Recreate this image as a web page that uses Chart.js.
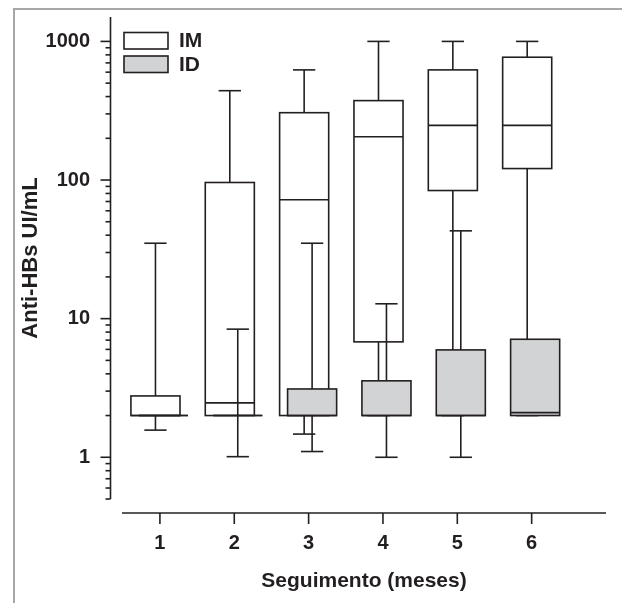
<!DOCTYPE html>
<html>
<head>
<meta charset="utf-8">
<script src="https://cdn.jsdelivr.net/npm/chart.js@4/dist/chart.umd.min.js"></script>
<style>
  body { margin: 0; background: #fff; }
  #wrap { position: relative; width: 622px; height: 603px; }
  #frame { position: absolute; left: 13px; top: 8px; right: 0; bottom: 0;
    border-left: 2px solid #a7a7a7; border-top: 2px solid #a7a7a7; pointer-events: none; }
</style>
</head>
<body>
<div id="wrap">
  <canvas id="chart" width="622" height="603"></canvas>
  <div id="frame"></div>
</div>
<script>
// months of follow-up
const months = [1, 2, 3, 4, 5, 6]

// IM group (white boxes)
const imMin = [1.57, 2, 1.47, 2, 2, 2]
const imQ1 = [2, 2, 2, 6.8, 84, 121]
const imMedian = [2, 2.47, 72, 205, 248, 248]
const imQ3 = [2.77, 96, 306, 374, 623, 769]
const imMax = [35, 441, 623, 1000, 1000, 1000]

// ID group (grey boxes)
const idMin = [2, 1.01, 1.1, 1, 1, 2]
const idQ1 = [2, 2, 2, 2, 2, 2]
const idMedian = [2, 2, 2, 2, 2, 2.1]
const idQ3 = [2, 2, 3.11, 3.56, 5.95, 7.1]
const idMax = [2, 8.4, 35, 12.8, 43, 7.1]

const yMajor = [1, 10, 100, 1000]
const yTickLabels = ['1', '10', '100', '1000']
const yMinor = [0.5, 0.6, 0.7, 0.8, 0.9, 2, 3, 4, 5, 6, 7, 8, 9,
  20, 30, 40, 50, 60, 70, 80, 90, 200, 300, 400, 500, 600, 700, 800, 900]

const ink = '#231f20'
const grey = '#d1d3d4'
const fontFamily = '"Liberation Sans", Arial, sans-serif'

const groups = [
  { label: 'IM', fill: '#ffffff', shift: -0.06, min: imMin, q1: imQ1, med: imMedian, q3: imQ3, max: imMax },
  { label: 'ID', fill: grey, shift: 0.047, min: idMin, q1: idQ1, med: idMedian, q3: idQ3, max: idMax }
]

const hline = (ctx, x1, x2, y) => {
  ctx.beginPath(); ctx.moveTo(x1, y); ctx.lineTo(x2, y); ctx.stroke()
}
const vline = (ctx, x, y1, y2) => {
  ctx.beginPath(); ctx.moveTo(x, y1); ctx.lineTo(x, y2); ctx.stroke()
}

const boxPlot = {
  id: 'boxPlot',
  afterDraw(chart) {
    const { ctx, scales: { x, y } } = chart
    ctx.save()
    ctx.strokeStyle = ink
    ctx.lineWidth = 1.6

    // axes, drawn detached like the original
    const axisX = x.left - 11.5
    vline(ctx, axisX, y.top, y.bottom)
    y.ticks.forEach(t => {
      const py = y.getPixelForValue(t.value)
      hline(ctx, axisX - (yMajor.includes(t.value) ? 10 : 5), axisX, py)
    })
    const axisY = y.bottom + 14
    hline(ctx, x.left, x.right, axisY)
    months.forEach(m => vline(ctx, x.getPixelForValue(m), axisY, axisY + 11))

    const halfBox = 0.33
    const halfCap = 0.15
    const drawWhiskers = g => {
      months.forEach((m, i) => {
        const cx = x.getPixelForValue(m + g.shift)
        const cap = x.getPixelForValue(m + g.shift + halfCap) - cx
        if (g.max[i] > g.q3[i]) {
          vline(ctx, cx, y.getPixelForValue(g.q3[i]), y.getPixelForValue(g.max[i]))
          hline(ctx, cx - cap, cx + cap, y.getPixelForValue(g.max[i]))
        }
        if (g.min[i] < g.q1[i]) {
          vline(ctx, cx, y.getPixelForValue(g.q1[i]), y.getPixelForValue(g.min[i]))
          hline(ctx, cx - cap, cx + cap, y.getPixelForValue(g.min[i]))
        }
      })
    }
    const drawBoxes = g => {
      months.forEach((m, i) => {
        const x1 = x.getPixelForValue(m + g.shift - halfBox)
        const x2 = x.getPixelForValue(m + g.shift + halfBox)
        const top = y.getPixelForValue(g.q3[i])
        const bottom = y.getPixelForValue(g.q1[i])
        ctx.fillStyle = g.fill
        ctx.fillRect(x1, top, x2 - x1, bottom - top)
        ctx.strokeRect(x1, top, x2 - x1, bottom - top)
        hline(ctx, x1, x2, y.getPixelForValue(g.med[i]))
      })
    }
    const [im, id] = groups
    drawBoxes(im)
    drawWhiskers(im)
    drawWhiskers(id)
    drawBoxes(id)

    // legend in the top left corner
    ctx.font = `bold 21px ${fontFamily}`
    ctx.textBaseline = 'middle'
    groups.forEach((g, i) => {
      const top = 32.5 + i * 23.5
      ctx.fillStyle = g.fill
      ctx.fillRect(124, top, 44, 16.5)
      ctx.strokeRect(124, top, 44, 16.5)
      ctx.fillStyle = ink
      ctx.fillText(g.label, 179, top + 9)
    })
    ctx.restore()
  }
}

new Chart(document.querySelector('#chart'), {
  type: 'scatter',
  data: { datasets: [] },
  options: {
    responsive: false,
    animation: false,
    layout: { padding: { top: 17, right: 16, left: 0, bottom: 0 } },
    plugins: { legend: { display: false }, tooltip: { enabled: false } },
    scales: {
      x: {
        type: 'linear',
        min: 0.49,
        max: 7,
        grid: { display: false, drawTicks: false },
        border: { display: false },
        afterBuildTicks: scale => { scale.ticks = months.map(v => ({ value: v })) },
        afterFit: scale => {
          scale.height = 104
          scale.paddingLeft = 0
          scale.paddingRight = 0
        },
        ticks: {
          padding: 32,
          color: ink,
          font: { family: fontFamily, size: 20, weight: 'bold' },
          callback: v => String(v)
        },
        title: {
          display: true,
          text: 'Seguimento (meses)',
          color: ink,
          font: { family: fontFamily, size: 21, weight: 'bold' },
          padding: { top: 0, bottom: 9 }
        }
      },
      y: {
        type: 'logarithmic',
        min: 0.5,
        max: 1500,
        grid: { display: false, drawTicks: false },
        border: { display: false },
        afterBuildTicks: scale => {
          scale.ticks = yMajor.concat(yMinor).sort((a, b) => a - b).map(v => ({ value: v }))
        },
        afterFit: scale => {
          scale.width = 122
          scale.paddingTop = 0
          scale.paddingBottom = 0
        },
        ticks: {
          padding: 32,
          autoSkip: false,
          color: ink,
          font: { family: fontFamily, size: 20, weight: 'bold' },
          callback: v => {
            const i = yMajor.indexOf(v)
            return i < 0 ? '' : yTickLabels[i]
          }
        },
        title: {
          display: true,
          text: 'Anti-HBs UI/mL',
          color: ink,
          font: { family: fontFamily, size: 22, weight: 'bold' },
          padding: { top: 18, bottom: 0 }
        }
      }
    }
  },
  plugins: [boxPlot]
})
</script>
</body>
</html>
